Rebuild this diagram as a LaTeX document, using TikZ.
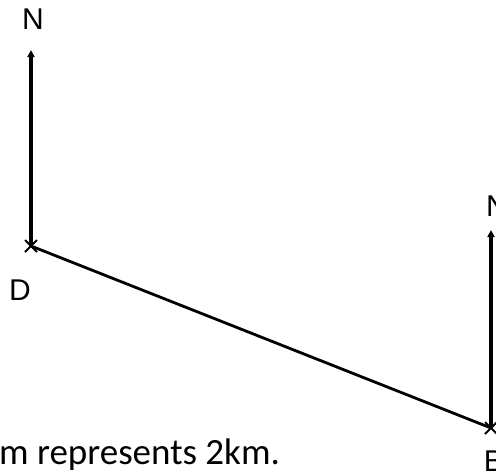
\documentclass[tikz,border=0pt]{standalone}
\usepackage{fontspec}
\setmainfont{Liberation Sans}
\newfontfamily\calib{Carlito}
\usetikzlibrary{arrows.meta,calc}
\tikzset{
  northarrow/.style={line width=3.2pt,-{Triangle[length=7pt,width=7pt]}},
  bearing/.style={line width=2.8pt},
  crossmark/.style={line width=2pt},
  lbl/.style={inner sep=0pt,font=\fontsize{30}{30}\selectfont},
}
\begin{document}
\begin{tikzpicture}[x=1pt,y=-1pt]
\useasboundingbox (0,0) rectangle (496,475);
\coordinate (D) at (31,246);
\coordinate (B) at (491,428);
\coordinate (Dn) at (31,50);
\coordinate (Bn) at (491,230);
\draw[northarrow] (D) -- (Dn);
\draw[northarrow] (B) -- (Bn);
\draw[bearing] (D) -- (B);
\draw[crossmark] ($(D)+(-6,-6)$) -- ($(D)+(6,6)$) ($(D)+(-6,6)$) -- ($(D)+(6,-6)$);
\draw[crossmark] ($(B)+(-6,-6)$) -- ($(B)+(6,6)$) ($(B)+(-6,6)$) -- ($(B)+(6,-6)$);
\node[lbl] (nD) at (33,19) {N};
\node[lbl] (nB) at (497,206) {N};
\node[lbl] (lD) at (20,290) {D};
\node[lbl] (lB) at (494,461) {B};
\node[inner sep=0pt,anchor=base west,font=\calib\fontsize{37}{37}\selectfont] (scale) at (-1,464) {m represents 2km.};
\end{tikzpicture}
\end{document}
